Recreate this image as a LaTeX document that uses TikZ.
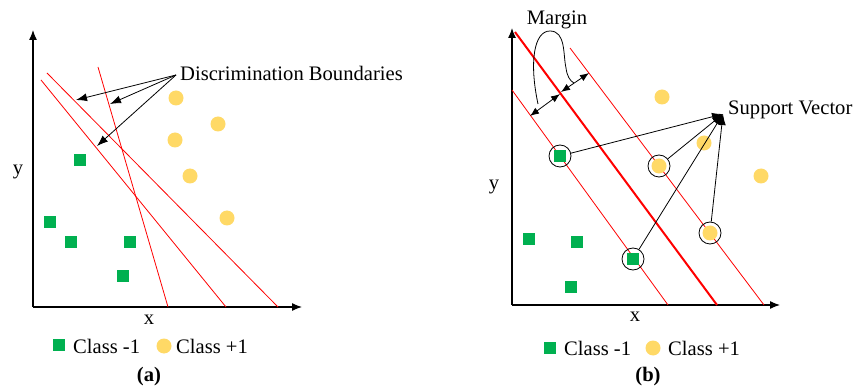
\documentclass[tikz,border=0pt]{standalone}
\usepackage{fontspec}
\setmainfont{Liberation Serif}
\usetikzlibrary{arrows.meta}
\definecolor{cgreen}{RGB}{0,176,80}
\definecolor{cyellow}{RGB}{255,217,102}
\definecolor{cred}{RGB}{255,0,0}
\tikzset{
  sq/.style={fill=cgreen, draw=none, minimum size=12pt, inner sep=0pt, shape=rectangle},
  dot/.style={fill=cyellow, draw=none, minimum size=15pt, inner sep=0pt, shape=circle},
  ring/.style={draw=black, line width=0.8pt, minimum size=22pt, inner sep=0pt, shape=circle},
  axis/.style={line width=1.2pt, -{Latex[length=10pt,width=8pt]}},
  bound/.style={draw=cred, line width=0.8pt},
  hyper/.style={draw=cred, line width=2pt},
  pointer/.style={line width=0.8pt, -{Latex[length=11pt,width=8pt]}},
  txt/.style={inner sep=0pt, font=\fontsize{20.6}{24}\selectfont},
  btxt/.style={inner sep=0pt, font=\fontsize{20.6}{24}\selectfont\bfseries}
}
\begin{document}
\begin{tikzpicture}[x=1pt,y=-1pt]
\useasboundingbox (0,0) rectangle (856,387);
\fill[white] (0,0) rectangle (856,387);
% ---------- panel (a) ----------
\coordinate (ao) at (33,307);
\coordinate (ay) at (33,30);
\coordinate (ax) at (302,307);
\draw[axis] (ao) -- (ay);
\draw[axis] (ao) -- (ax);
\coordinate (l1a) at (98,67);  \coordinate (l1b) at (168,307);
\coordinate (l2a) at (41,80);  \coordinate (l2b) at (226,307);
\coordinate (l3a) at (47,73);  \coordinate (l3b) at (278,307);
\draw[bound] (l1a) -- (l1b);
\draw[bound] (l2a) -- (l2b);
\draw[bound] (l3a) -- (l3b);
\node[txt, anchor=west] (db) at (180,73) {Discrimination Boundaries};
\coordinate (dbs) at (176,75);
\coordinate (t1) at (76,100);
\coordinate (t2) at (110,104);
\coordinate (t3) at (97,146);
\draw[pointer] (dbs) -- (t1);
\draw[pointer] (dbs) -- (t2);
\draw[pointer] (dbs) -- (t3);
\node[sq] (ag1) at (80,160) {};
\node[sq] (ag2) at (50,222) {};
\node[sq] (ag3) at (71,242) {};
\node[sq] (ag4) at (130,242) {};
\node[sq] (ag5) at (123,276) {};
\node[dot] (ay1) at (176,98) {};
\node[dot] (ay2) at (218,124) {};
\node[dot] (ay3) at (175,140) {};
\node[dot] (ay4) at (190,176) {};
\node[dot] (ay5) at (227,218) {};
\node[txt] (aylab) at (18,172) {y};
\node[txt] (axlab) at (149,320) {x};
\node[sq] (alsq) at (59,345) {};
\node[txt, anchor=west] (alt1) at (73,346) {Class -1};
\node[dot] (aldot) at (164,346) {};
\node[txt, anchor=west] (alt2) at (176,346) {Class +1};
\node[btxt] (acap) at (149,377) {(a)};
% ---------- panel (b) ----------
\coordinate (bo) at (512,305);
\coordinate (by) at (512,28);
\coordinate (bx) at (780,305);
\draw[axis] (bo) -- (by);
\draw[axis] (bo) -- (bx);
\coordinate (h0a) at (515,32);  \coordinate (h0b) at (717,305);
\coordinate (h1a) at (512,90);  \coordinate (h1b) at (668,305);
\coordinate (h2a) at (570,48);  \coordinate (h2b) at (764,305);
\draw[bound] (h1a) -- (h1b);
\draw[bound] (h2a) -- (h2b);
\draw[hyper] (h0a) -- (h0b);
% margin arrows
\coordinate (m1a) at (530,116); \coordinate (m1b) at (560,94);
\coordinate (m2a) at (561,92);  \coordinate (m2b) at (589,73);
\draw[line width=0.8pt, {Latex[length=9pt,width=7pt]}-{Latex[length=9pt,width=7pt]}] (m1a) -- (m1b);
\draw[line width=0.8pt, {Latex[length=9pt,width=7pt]}-{Latex[length=9pt,width=7pt]}] (m2a) -- (m2b);
\coordinate (lp0) at (538,104);
\coordinate (lp1) at (550,31);
\coordinate (lp2) at (566,68);
\coordinate (lp3) at (574,83);
\draw[line width=0.8pt] (lp0) .. controls (529,62) and (534,31) .. (lp1)
  .. controls (566,31) and (563,55) .. (lp2) .. controls (567,76) and (570,81) .. (lp3);
\node[txt] (mlab) at (557,20) {Margin};
% points
\node[sq] (bg1) at (529,239) {};
\node[sq] (bg2) at (577,242) {};
\node[sq] (bg3) at (571,287) {};
\node[sq] (bg4) at (560,156) {};
\node[sq] (bg5) at (633,259) {};
\node[dot] (by1) at (662,97) {};
\node[dot] (by2) at (704,143) {};
\node[dot] (by3) at (761,176) {};
\node[dot] (by4) at (659,166) {};
\node[dot] (by5) at (710,233) {};
\node[ring] (r1) at (560,156) {};
\node[ring] (r2) at (659,166) {};
\node[ring] (r3) at (710,233) {};
\node[ring] (r4) at (633,259) {};
\coordinate (sv) at (723,114);
\draw[pointer] (r1) -- (sv);
\draw[pointer] (r2) -- (sv);
\draw[pointer] (r3) -- (sv);
\draw[pointer] (r4) -- (sv);
\node[txt, anchor=west] (svlab) at (728,110) {Support Vector};
\node[txt] (bylab) at (494,187) {y};
\node[txt] (bxlab) at (635,317) {x};
\node[sq] (blsq) at (550,348) {};
\node[txt, anchor=west] (blt1) at (564,348) {Class -1};
\node[dot] (bldot) at (653,348) {};
\node[txt, anchor=west] (blt2) at (668,348) {Class +1};
\node[btxt] (bcap) at (648,377) {(b)};
\end{tikzpicture}
\end{document}
